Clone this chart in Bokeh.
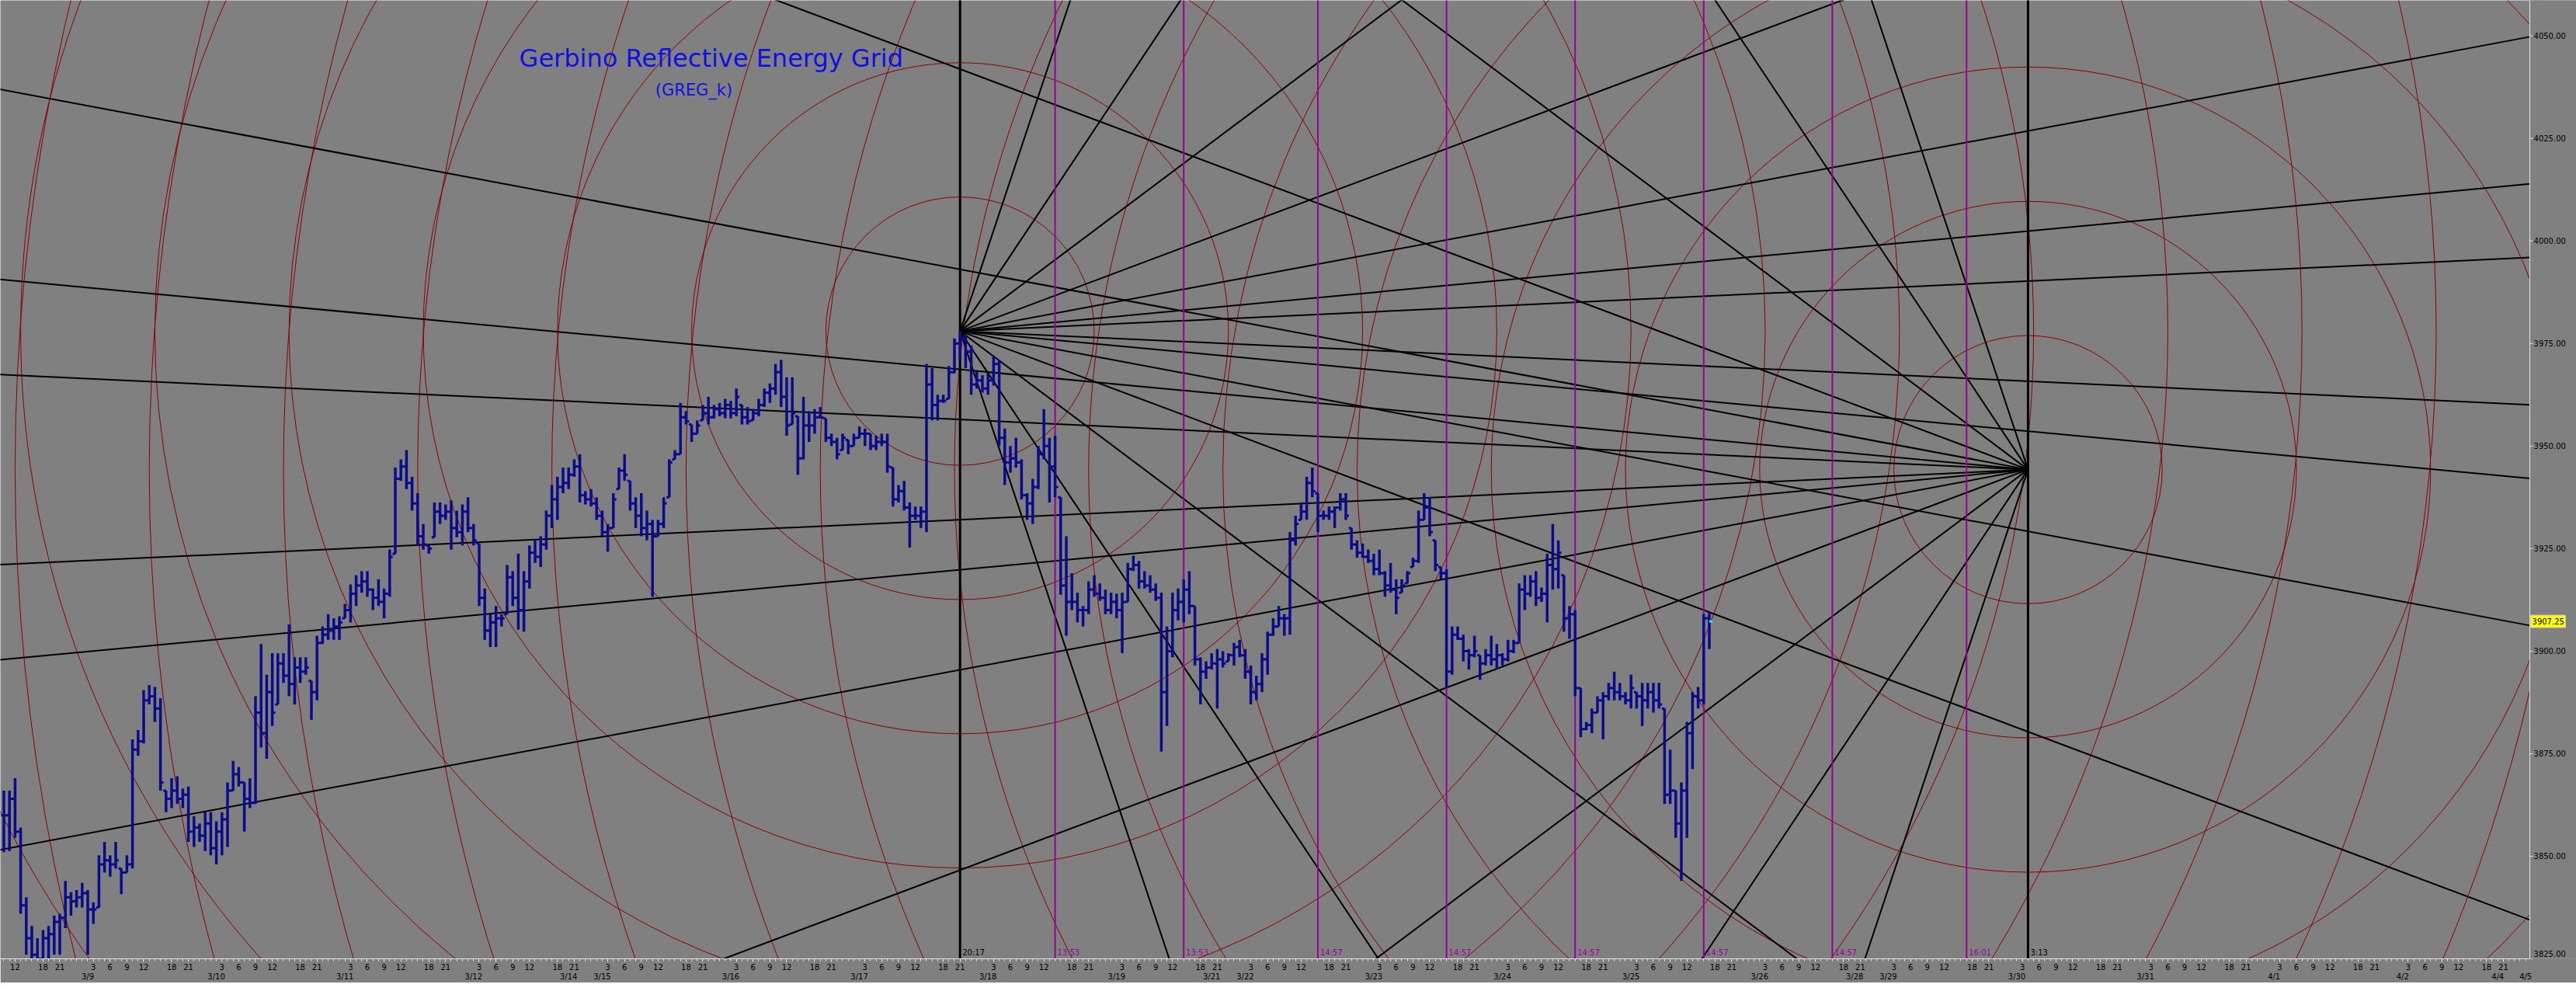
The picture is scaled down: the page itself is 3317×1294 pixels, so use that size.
from bokeh.plotting import figure
from bokeh.models import Range1d, LinearAxis, FixedTicker, Label, ColumnDataSource
from bokeh.core.properties import value
from bokeh.embed import file_html
from bokeh.resources import INLINE

# ---------------- trading calendar (hourly bars, CME session) ----------------
DAYS = ["3/8", "3/9", "3/10", "3/11", "3/12", "3/14", "3/15", "3/16", "3/17", "3/18",
        "3/19", "3/21", "3/22", "3/23", "3/24", "3/25", "3/26", "3/28", "3/29", "3/30",
        "3/31", "4/1", "4/2", "4/4", "4/5"]
DAY_KIND = ["full", "full", "full", "full", "fri", "sun", "full", "full", "full", "full",
            "fri", "sun", "full", "full", "full", "full", "fri", "sun", "full", "full",
            "full", "full", "fri", "sun", "full"]
SESSION_HOURS = {"full": 23, "fri": 17, "sun": 6}
HOUR_LABELS = {"full": [3, 6, 9, 12, 18, 21], "fri": [3, 6, 9, 12], "sun": [18, 21]}
FIRST_DAY_START = -12          # 3/8 00:00 ; bar index 0 = 3/8 12:00

# ---------------- price bars (hourly, first bar = index -2) ----------------
FIRST_BAR = -2
HIGH = [
    3866.0, 3866.0, 3869.0, 3857.0, 3840.0, 3833.0, 3830.0, 3832.0, 3833.0, 3835.5,
    3836.0, 3844.0, 3841.25, 3841.75, 3843.5, 3841.75, 3838.75, 3850.25, 3853.5, 3850.25,
    3853.5, 3847.0, 3850.25, 3878.5, 3880.75, 3890.5, 3891.75, 3891.25, 3888.5, 3866.0,
    3869.0, 3869.5, 3866.5, 3867.0, 3859.75, 3858.0, 3860.75, 3860.75, 3858.5, 3860.75,
    3868.0, 3873.25, 3871.75, 3868.0, 3869.0, 3889.0, 3901.75, 3894.25, 3899.5, 3899.5,
    3899.5, 3906.5, 3898.5, 3898.5, 3898.5, 3892.75, 3903.75, 3906.0, 3909.0, 3908.0,
    3908.5, 3911.5, 3916.25, 3918.5, 3919.5, 3919.5, 3915.25, 3917.5, 3915.25, 3924.75,
    3944.75, 3946.75, 3949.0, 3942.5, 3938.5, 3931.0, 3925.75, 3936.25, 3936.25, 3935.75,
    3936.75, 3934.25, 3935.75, 3937.5, 3931.0, 3926.25, 3915.25, 3909.0, 3911.0, 3909.0,
    3921.0, 3919.5, 3923.75, 3919.5, 3925.75, 3927.0, 3928.0, 3934.25, 3940.5, 3942.5,
    3944.75, 3944.75, 3946.75, 3948.0, 3939.0, 3939.5, 3937.5, 3934.25, 3931.0, 3938.5,
    3944.75, 3948.0, 3941.5, 3937.5, 3938.5, 3934.25, 3932.0, 3932.0, 3937.5, 3946.75,
    3949.0, 3960.5, 3958.5, 3955.25, 3956.25, 3960.0, 3962.0, 3960.0, 3960.5, 3961.5,
    3961.0, 3964.0, 3960.0, 3959.5, 3959.0, 3961.5, 3964.0, 3965.25, 3970.0, 3971.0,
    3966.75, 3966.75, 3957.25, 3962.0, 3958.5, 3959.0, 3959.5, 3956.75, 3953.0, 3952.0,
    3953.0, 3951.5, 3953.0, 3954.75, 3954.25, 3953.0, 3952.5, 3953.0, 3953.0, 3944.75,
    3940.5, 3941.5, 3936.25, 3935.25, 3935.25, 3970.0, 3969.0, 3962.5, 3962.5, 3969.5,
    3976.25, 3978.0, 3977.0, 3974.5, 3968.25, 3967.25, 3967.75, 3972.0, 3971.0, 3954.25,
    3950.0, 3952.0, 3946.75, 3938.5, 3942.0, 3950.0, 3959.0, 3952.0, 3952.5, 3937.5,
    3928.0, 3919.0, 3914.25, 3911.0, 3917.0, 3918.5, 3916.5, 3915.0, 3914.25, 3914.0,
    3914.25, 3921.5, 3923.25, 3922.0, 3919.5, 3918.5, 3916.5, 3914.25, 3906.0, 3914.25,
    3915.25, 3917.5, 3919.5, 3911.0, 3898.5, 3897.5, 3899.5, 3900.5, 3900.0, 3899.5,
    3902.0, 3902.75, 3900.5, 3896.5, 3894.0, 3899.5, 3904.75, 3908.0, 3911.0, 3909.0,
    3929.0, 3933.0, 3936.25, 3942.5, 3944.75, 3938.5, 3934.25, 3935.25, 3935.25, 3938.5,
    3938.5, 3930.0, 3927.0, 3926.25, 3924.75, 3923.75, 3924.75, 3919.5, 3921.5, 3917.5,
    3917.5, 3919.5, 3922.75, 3934.25, 3938.5, 3937.5, 3927.0, 3920.5, 3920.0, 3906.0,
    3906.0, 3904.0, 3900.5, 3903.75, 3899.0, 3900.5, 3903.75, 3901.75, 3899.5, 3902.75,
    3902.75, 3916.5, 3918.5, 3918.5, 3919.5, 3915.5, 3923.75, 3931.0, 3927.0, 3918.5,
    3911.0, 3910.0, 3891.0, 3882.75, 3886.0, 3889.0, 3890.0, 3892.25, 3895.0, 3892.25,
    3890.0, 3894.25, 3890.0, 3892.25, 3892.25, 3892.25, 3892.25, 3886.0, 3876.0, 3866.0,
    3868.0, 3882.75, 3890.0, 3891.25, 3909.0, 3909.5,
]
LOW = [
    3851.0, 3851.25, 3854.5, 3836.0, 3826.0, 3822.0, 3820.0, 3821.0, 3824.0, 3826.0,
    3826.0, 3832.5, 3835.5, 3837.5, 3837.5, 3826.0, 3833.5, 3837.5, 3846.0, 3845.0,
    3847.0, 3840.75, 3846.0, 3847.0, 3874.5, 3877.5, 3887.0, 3882.75, 3866.0, 3860.75,
    3861.75, 3862.75, 3861.75, 3853.5, 3852.25, 3853.5, 3851.25, 3850.25, 3848.0, 3850.25,
    3852.25, 3866.0, 3867.0, 3856.0, 3861.75, 3862.75, 3876.5, 3873.75, 3881.75, 3887.0,
    3892.25, 3889.0, 3887.0, 3892.25, 3894.25, 3883.25, 3888.0, 3901.75, 3902.75, 3902.75,
    3902.75, 3908.0, 3907.0, 3911.0, 3914.25, 3913.25, 3910.0, 3911.0, 3908.0, 3913.25,
    3923.75, 3941.5, 3939.5, 3934.25, 3925.75, 3924.75, 3923.75, 3927.75, 3931.0, 3932.0,
    3924.75, 3927.75, 3925.75, 3929.0, 3925.75, 3911.0, 3902.75, 3901.0, 3901.0, 3906.0,
    3909.0, 3911.0, 3905.25, 3904.75, 3915.25, 3921.5, 3920.5, 3924.75, 3930.0, 3932.0,
    3938.5, 3939.5, 3942.5, 3936.25, 3935.75, 3935.25, 3932.0, 3928.0, 3924.25, 3930.0,
    3939.5, 3941.5, 3934.25, 3930.0, 3928.0, 3927.0, 3913.25, 3928.0, 3930.0, 3937.5,
    3946.75, 3948.0, 3955.25, 3951.0, 3953.0, 3956.25, 3955.25, 3956.75, 3957.25, 3956.75,
    3956.75, 3957.25, 3955.25, 3955.25, 3956.25, 3957.25, 3959.5, 3960.5, 3962.5, 3959.5,
    3952.5, 3955.25, 3943.0, 3946.75, 3951.0, 3953.0, 3956.75, 3951.0, 3950.0, 3946.75,
    3949.0, 3948.0, 3950.0, 3952.0, 3950.0, 3949.0, 3949.0, 3950.0, 3943.5, 3935.25,
    3936.25, 3934.25, 3925.25, 3932.0, 3930.0, 3929.0, 3956.25, 3956.25, 3960.5, 3961.5,
    3967.75, 3971.0, 3969.0, 3962.5, 3964.0, 3963.0, 3962.5, 3964.75, 3950.0, 3940.5,
    3943.5, 3944.75, 3937.0, 3932.0, 3931.0, 3939.5, 3946.75, 3936.25, 3937.5, 3913.75,
    3903.75, 3910.0, 3907.0, 3906.0, 3909.0, 3913.25, 3912.25, 3909.0, 3909.0, 3908.0,
    3899.5, 3912.0, 3919.5, 3915.25, 3915.25, 3914.25, 3912.25, 3875.5, 3881.75, 3898.5,
    3907.5, 3907.0, 3909.0, 3896.5, 3887.0, 3893.25, 3895.5, 3886.0, 3896.0, 3897.5,
    3896.5, 3898.5, 3893.25, 3887.0, 3888.0, 3890.0, 3894.25, 3903.75, 3906.0, 3903.75,
    3904.0, 3925.75, 3932.0, 3932.0, 3937.5, 3929.0, 3932.0, 3932.0, 3930.0, 3934.25,
    3932.0, 3924.75, 3922.75, 3922.75, 3921.5, 3918.5, 3918.5, 3913.25, 3914.25, 3909.0,
    3914.25, 3916.5, 3920.5, 3921.5, 3932.0, 3928.0, 3919.5, 3917.5, 3891.0, 3894.25,
    3902.75, 3897.5, 3895.5, 3898.5, 3893.0, 3896.5, 3896.5, 3895.5, 3896.5, 3897.5,
    3899.5, 3902.0, 3910.0, 3913.25, 3911.0, 3912.0, 3907.0, 3915.0, 3915.25, 3904.75,
    3903.0, 3889.0, 3879.0, 3880.75, 3880.0, 3885.0, 3878.5, 3888.0, 3888.0, 3888.0,
    3887.0, 3886.0, 3886.0, 3881.75, 3886.0, 3885.0, 3886.0, 3862.75, 3862.75, 3854.5,
    3844.0, 3854.5, 3871.25, 3886.0, 3887.0, 3900.5,
]
CLOSE = [
    3860.0, 3864.0, 3856.0, 3838.0, 3830.0, 3826.0, 3825.0, 3830.0, 3831.0, 3834.0,
    3835.0, 3840.0, 3839.0, 3840.0, 3841.0, 3837.0, 3837.0, 3848.0, 3849.0, 3848.0,
    3849.0, 3846.0, 3848.0, 3876.0, 3878.0, 3888.0, 3889.0, 3886.0, 3868.0, 3864.0,
    3866.0, 3864.0, 3865.0, 3856.0, 3857.0, 3855.0, 3858.0, 3852.0, 3856.0, 3859.0,
    3866.0, 3870.0, 3868.0, 3864.0, 3863.0, 3885.0, 3880.0, 3890.0, 3885.0, 3897.0,
    3894.0, 3892.0, 3896.0, 3895.0, 3896.0, 3890.0, 3902.0, 3904.0, 3905.0, 3906.0,
    3907.0, 3910.0, 3914.0, 3916.0, 3917.0, 3915.0, 3913.0, 3912.0, 3914.0, 3923.0,
    3942.0, 3945.0, 3941.0, 3936.0, 3928.0, 3926.0, 3925.0, 3934.0, 3933.0, 3934.0,
    3930.0, 3929.0, 3934.0, 3930.0, 3927.0, 3913.0, 3905.0, 3907.0, 3908.0, 3908.0,
    3918.0, 3913.0, 3910.0, 3917.0, 3924.0, 3923.0, 3926.0, 3933.0, 3937.0, 3940.0,
    3941.0, 3943.0, 3945.0, 3938.0, 3937.0, 3936.0, 3933.0, 3929.0, 3930.0, 3937.0,
    3944.0, 3943.0, 3936.0, 3933.0, 3930.0, 3931.0, 3928.0, 3931.0, 3936.0, 3946.0,
    3948.0, 3957.0, 3956.0, 3953.0, 3955.0, 3958.0, 3957.0, 3959.0, 3958.0, 3960.0,
    3958.0, 3962.0, 3957.0, 3956.0, 3958.0, 3960.0, 3963.0, 3964.0, 3968.0, 3962.0,
    3955.0, 3958.0, 3947.0, 3955.0, 3955.0, 3957.0, 3957.0, 3952.0, 3951.0, 3948.0,
    3952.0, 3950.0, 3952.0, 3953.0, 3953.0, 3950.0, 3951.0, 3951.0, 3945.0, 3937.0,
    3939.0, 3935.0, 3933.0, 3933.0, 3934.0, 3965.0, 3960.0, 3961.0, 3961.0, 3968.0,
    3975.0, 3976.0, 3973.0, 3965.0, 3966.0, 3964.0, 3966.0, 3970.0, 3952.0, 3946.0,
    3947.0, 3946.0, 3938.0, 3936.0, 3940.0, 3948.0, 3950.0, 3945.0, 3940.0, 3916.0,
    3912.0, 3912.0, 3910.0, 3910.0, 3915.0, 3914.0, 3913.0, 3910.0, 3912.0, 3910.0,
    3912.0, 3920.0, 3921.0, 3917.0, 3916.0, 3915.0, 3913.0, 3890.0, 3900.0, 3910.0,
    3912.0, 3915.0, 3911.0, 3898.0, 3895.0, 3896.0, 3897.0, 3898.0, 3897.0, 3899.0,
    3901.0, 3899.0, 3895.0, 3890.0, 3892.0, 3898.0, 3904.0, 3906.0, 3908.0, 3908.0,
    3927.0, 3931.0, 3934.0, 3941.0, 3939.0, 3933.0, 3933.0, 3934.0, 3935.0, 3937.0,
    3933.0, 3926.0, 3924.0, 3923.0, 3922.0, 3920.0, 3919.0, 3916.0, 3915.0, 3913.0,
    3916.0, 3919.0, 3922.0, 3932.0, 3935.0, 3929.0, 3921.0, 3919.0, 3895.0, 3904.0,
    3903.0, 3900.0, 3899.0, 3900.0, 3897.0, 3899.0, 3898.0, 3899.0, 3898.0, 3900.0,
    3902.0, 3915.0, 3914.0, 3917.0, 3913.0, 3914.0, 3921.0, 3920.0, 3924.0, 3908.0,
    3909.0, 3891.0, 3881.0, 3882.0, 3885.0, 3888.0, 3889.0, 3891.0, 3890.0, 3889.0,
    3888.0, 3891.0, 3889.0, 3888.0, 3890.0, 3888.0, 3887.0, 3865.0, 3866.0, 3858.0,
    3866.0, 3880.0, 3889.0, 3888.0, 3908.0, 3907.25,
]
LAST_PRICE = 3907.25

# ---------------- energy grid definition ----------------
PIVOT_A_TIME, PIVOT_A_PRICE = "3/17 20:17", 3978.0
PIVOT_B_TIME, PIVOT_B_PRICE = "3/30 3:13", 3944.25
FAN_MULTIPLIERS = [1, 2, 4, 8, 16, 32, 64]
BASE_SLOPE = 0.0639          # points per hourly bar
RING_STEP = 24.0             # circle radius step, in bars
RING_COUNT = 17
PURPLE_TIMES = ["3/18 13:53", "3/19 13:53", "3/22 14:57", "3/23 14:57",
                "3/24 14:57", "3/25 14:57", "3/26 14:57", "3/29 16:01"]
BLACK_TIMES = [PIVOT_A_TIME, PIVOT_B_TIME]
PRICE_TICKS = [3825, 3850, 3875, 3900, 3925, 3950, 3975, 4000, 4025, 4050]

TITLE = "Gerbino Reflective Energy Grid"
SUBTITLE = "(GREG_k)"

# ---------------- helpers ----------------
day_start = {}
s = FIRST_DAY_START
for d, k in zip(DAYS, DAY_KIND):
    day_start[d] = s
    s += SESSION_HOURS[k]
day_kind = dict(zip(DAYS, DAY_KIND))


def t_at(day, h):
    k = day_kind[day]
    st = day_start[day]
    if k == "sun":
        return st + (h - 18)
    return st + (h if h < 17 else h - 1)


def bar_of(stamp):
    """position of the hourly bar (stamped by its end time) containing the time"""
    d, hm = stamp.split()
    h, m = (int(v) for v in hm.split(":"))
    return t_at(d, h + 1 if m > 0 else h)


# plot geometry (bar units / price units)
X0, T_AXIS, X1 = -2.625, 449.74, 458.07
Y0, Y1 = 3825.0, 4058.63
PX_PER_BAR = 3317 / (X1 - X0)
PX_PER_PT = 1234 / (Y1 - Y0)

BG = "#808080"
p = figure(x_range=Range1d(X0, X1), y_range=Range1d(Y0, Y1),
           frame_width=3317, frame_height=1234,
           output_backend="svg", toolbar_location=None,
           x_axis_location=None, y_axis_location=None,
           min_border_left=0, min_border_top=0, min_border_right=0, min_border_bottom=0,
           background_fill_color=BG, border_fill_color=BG, outline_line_color=None)
p.grid.grid_line_color = None

# ---- circles ----
ta, tb = bar_of(PIVOT_A_TIME), bar_of(PIVOT_B_TIME)
cx, cy, cr = [], [], []
for (px_, py_) in [(ta, PIVOT_A_PRICE), (tb, PIVOT_B_PRICE)]:
    for k in range(1, RING_COUNT + 1):
        cx.append(px_); cy.append(py_); cr.append(k * RING_STEP)
p.circle(x=cx, y=cy, radius=cr, radius_dimension="x", fill_color=None,
         line_color="#8B0000", line_width=1)

# ---- fan lines ----
x0s, y0s, x1s, y1s = [], [], [], []
for m in FAN_MULTIPLIERS:
    for sgn in (1, -1):
        xe = T_AXIS
        x0s.append(ta); y0s.append(PIVOT_A_PRICE)
        x1s.append(xe); y1s.append(PIVOT_A_PRICE + sgn * m * BASE_SLOPE * (xe - ta))
        xw = X0 - 20
        x0s.append(tb); y0s.append(PIVOT_B_PRICE)
        x1s.append(xw); y1s.append(PIVOT_B_PRICE + sgn * m * BASE_SLOPE * (xw - tb))
p.segment(x0=x0s, y0=y0s, x1=x1s, y1=y1s, line_color="black", line_width=2)

# ---- vertical time lines ----
pt = [bar_of(s_) for s_ in PURPLE_TIMES]
bt = [bar_of(s_) for s_ in BLACK_TIMES]
p.segment(x0=pt, y0=[Y0 - 10] * len(pt), x1=pt, y1=[Y1 + 10] * len(pt),
          line_color="#990099", line_width=2)
p.segment(x0=bt, y0=[Y0 - 10] * len(bt), x1=bt, y1=[Y1 + 10] * len(bt),
          line_color="black", line_width=3)

# ---- price bars ----
n = len(HIGH)
bx = [FIRST_BAR + i for i in range(n)]
opens = []
for i in range(n):
    prev = CLOSE[i - 1] if i > 0 else CLOSE[0]
    opens.append(min(max(prev, LOW[i]), HIGH[i]))
BAR = "#0B0B8E"
p.segment(x0=bx, y0=LOW, x1=bx, y1=HIGH, line_color=BAR, line_width=3.5)
p.segment(x0=[x - 0.5 for x in bx], y0=opens, x1=bx, y1=opens, line_color=BAR, line_width=3)
cc = [BAR] * (n - 1) + ["#00FFFF"]
p.segment(x0=bx, y0=CLOSE, x1=[x + 0.55 for x in bx], y1=CLOSE, line_color=cc, line_width=3)

# ---- time labels at the bottom of the verticals ----
def hm(s_):
    return s_.split()[1]

lab_src = ColumnDataSource(dict(
    x=pt + bt, y=[Y0 + 0.5] * (len(pt) + len(bt)),
    text=[hm(s_) for s_ in PURPLE_TIMES] + [hm(s_) for s_ in BLACK_TIMES],
    color=["#990099"] * len(pt) + ["black"] * len(bt)))
p.text(x="x", y="y", text="text", text_color="color", source=lab_src,
       x_offset=3, text_baseline="bottom", text_align="left",
       text_font=value("DejaVu Sans"), text_font_size="10px")

# ---- title ----
p.add_layout(Label(x=124.5, y=4044.6, text=TITLE, text_align="center",
                   text_baseline="middle", text_color="#1010E6",
                   text_font="DejaVu Sans", text_font_size="32px"))
p.add_layout(Label(x=121.4, y=4036.7, text=SUBTITLE, text_align="center",
                   text_baseline="middle", text_color="#1010E6",
                   text_font="DejaVu Sans", text_font_size="21px"))

# ---- price scale (drawn in the right strip of the plot area) ----
AX = "#E6E6E6"
p.quad(left=[T_AXIS], right=[X1 + 5], bottom=[Y0 - 50], top=[Y1 + 50],
       fill_color=BG, line_color=None)
p.segment(x0=[T_AXIS], y0=[Y0 - 5], x1=[T_AXIS], y1=[Y1 + 5], line_color=AX, line_width=1)
tick_len = 4 / PX_PER_BAR
p.segment(x0=[T_AXIS] * len(PRICE_TICKS), y0=PRICE_TICKS,
          x1=[T_AXIS + tick_len] * len(PRICE_TICKS), y1=PRICE_TICKS,
          line_color=AX, line_width=1)
min_lab_y = Y0 + 7 / PX_PER_PT
price_src = ColumnDataSource(dict(
    x=[T_AXIS + 5 / PX_PER_BAR] * len(PRICE_TICKS),
    y=[max(v, min_lab_y) for v in PRICE_TICKS],
    text=[f"{v:.2f}" for v in PRICE_TICKS]))
p.text(x="x", y="y", text="text", source=price_src, text_color="black",
       text_align="left", text_baseline="middle",
       text_font=value("DejaVu Sans"), text_font_size="10px")
# last-price tag
tag_h = 8 / PX_PER_PT
p.quad(left=[T_AXIS + 1 / PX_PER_BAR], right=[T_AXIS + 46 / PX_PER_BAR],
       bottom=[LAST_PRICE - tag_h], top=[LAST_PRICE + tag_h],
       fill_color="#FFFF00", line_color="#C8C8C8", line_width=1)
p.text(x=[T_AXIS + 3 / PX_PER_BAR], y=[LAST_PRICE], text=[f"{LAST_PRICE:.2f}"],
       text_color="black", text_align="left", text_baseline="middle",
       text_font=value("DejaVu Sans"), text_font_size="10px")

# ---- time axes ----
hour_ticks, hour_over = [], {}
date_ticks, date_over = [], {}
for d in DAYS:
    k = day_kind[d]
    for h in HOUR_LABELS[k]:
        tt = int(t_at(d, h))
        if X0 <= tt <= T_AXIS:
            hour_ticks.append(tt); hour_over[tt] = str(h)
    dt = int(min(day_start[d] + 2, T_AXIS - 0.5))
    if X0 <= dt <= T_AXIS:
        date_ticks.append(dt); date_over[dt] = d
minor = list(range(int(X0), int(T_AXIS) + 1))

hour_axis = LinearAxis(ticker=FixedTicker(ticks=hour_ticks, minor_ticks=minor),
                       major_label_overrides=hour_over, bounds=(X0, T_AXIS),
                       axis_line_color=AX, major_tick_line_color=AX, minor_tick_line_color=AX,
                       major_tick_in=0, major_tick_out=4, minor_tick_in=0, minor_tick_out=3,
                       major_label_standoff=2, major_label_text_font="DejaVu Sans",
                       major_label_text_font_size="10px", major_label_text_color="black")
p.add_layout(hour_axis, "below")
date_axis = LinearAxis(ticker=FixedTicker(ticks=date_ticks, minor_ticks=[]),
                       major_label_overrides=date_over, bounds=(X0, T_AXIS),
                       axis_line_color=None, major_tick_line_color=None, minor_tick_line_color=None,
                       major_tick_in=0, major_tick_out=0, major_label_standoff=0,
                       major_label_text_font="DejaVu Sans",
                       major_label_text_font_size="10px", major_label_text_color="black")
p.add_layout(date_axis, "below")

html = file_html(p, INLINE, title="Gerbino Reflective Energy Grid")
html = html.replace("<body>", '<body style="background-color:#808080;">', 1)
open("out.html", "w").write(html)
